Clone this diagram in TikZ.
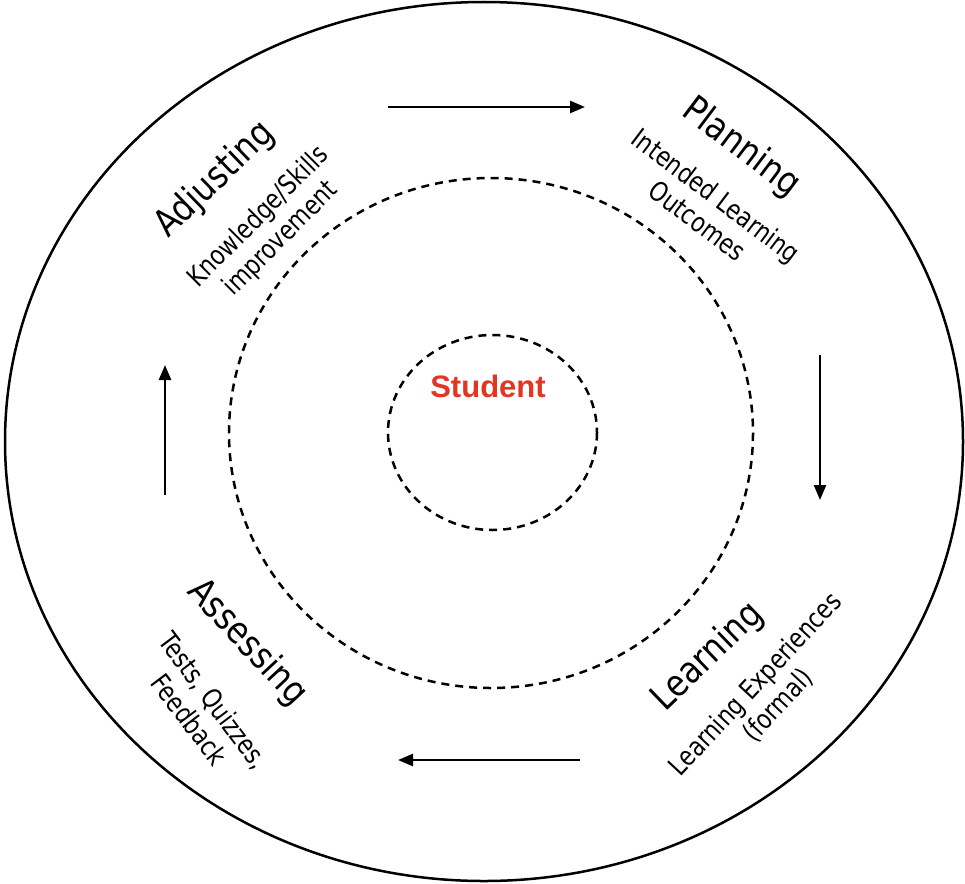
\documentclass[tikz,border=0pt]{standalone}
\usepackage{fontspec}
\setmainfont{DejaVu Sans}
\newfontfamily\subfont[FakeStretch=0.82]{DejaVu Sans}
\newfontfamily\headfont[FakeStretch=0.86]{DejaVu Sans}
\newfontfamily\studentfont{Liberation Sans}
\usetikzlibrary{arrows.meta}
\begin{document}
\begin{tikzpicture}[x=1pt,y=-1pt,
  ring/.style={line width=2.5pt},
  dring/.style={line width=2.5pt,dash pattern=on 8pt off 6pt},
  flow/.style={line width=2.5pt,-{Triangle[length=15pt,width=12pt]}},
  head/.style={font=\headfont\fontsize{37}{40}\selectfont,inner sep=0pt},
  sub/.style={font=\subfont\fontsize{27}{31}\selectfont,align=center,inner sep=0pt}]
\useasboundingbox (0,0) rectangle (965,883);
\draw[ring] (484,441.5) ellipse [x radius=479,y radius=439.5];
\draw[dring] (491,433) ellipse [x radius=262,y radius=255];
\draw[dring] (492.5,432.5) ellipse [x radius=104.5,y radius=97.5];
\node[text={rgb,255:red,228;green,52;blue,36},font=\studentfont\bfseries\fontsize{31}{34}\selectfont] (student) at (488,386) {Student};
% headings
\node[head,rotate=44] (adj) at (215,180) {Adjusting};
\node[sub,rotate=45] (adjsub) at (270,228) {Knowledge/Skills\\improvement};
\node[head,rotate=-37] (plan) at (741,148) {Planning};
\node[sub,rotate=-37] (plansub) at (707,208) {Intended Learning\\Outcomes};
\node[head,rotate=44] (learn) at (708,657) {Learning};
\node[sub,rotate=47] (learnsub) at (767,695) {Learning Experiences\\(formal)};
\node[head,rotate=-47] (assess) at (247,643) {Assessing};
\node[sub,rotate=-53] (asssub) at (202,710) {Tests, Quizzes,\\Feedback};
% arrows
\coordinate (t1) at (388,107); \coordinate (t2) at (585,107);
\coordinate (r1) at (820,355); \coordinate (r2) at (820,500);
\coordinate (b1) at (580,760); \coordinate (b2) at (398,760);
\coordinate (l1) at (165,495); \coordinate (l2) at (165,365);
\draw[flow] (t1) -- (t2);
\draw[flow] (r1) -- (r2);
\draw[flow] (b1) -- (b2);
\draw[flow] (l1) -- (l2);
\end{tikzpicture}
\end{document}
